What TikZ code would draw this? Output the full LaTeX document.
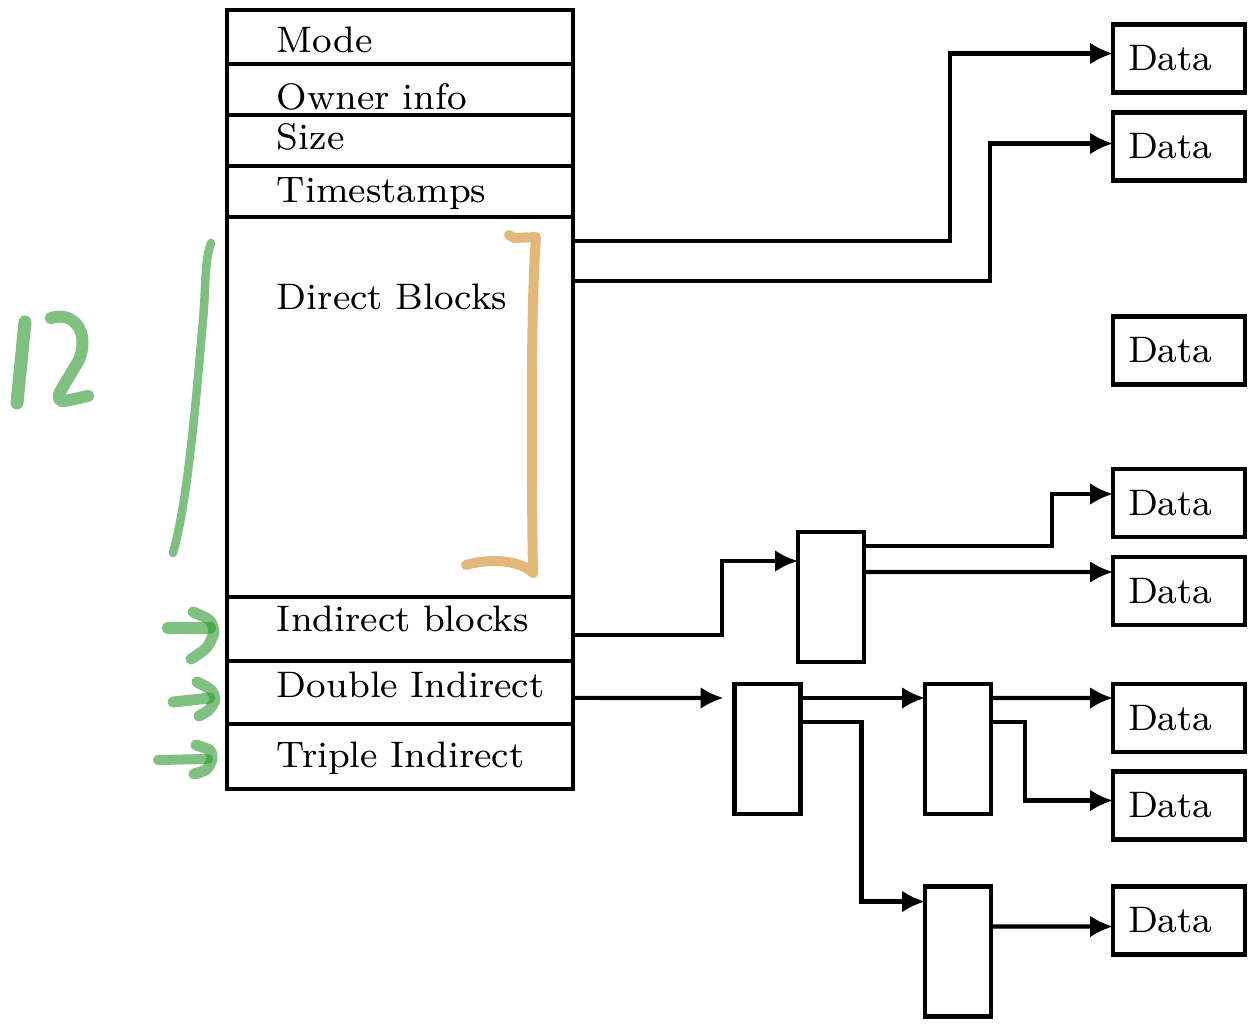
\documentclass[tikz,border=0pt]{standalone}
\usepackage{fontspec}
\usepackage{tikz}
\usetikzlibrary{arrows.meta,positioning,calc}
\usepackage{xcolor}
\newfontfamily\inodefont{lmroman8-regular.otf}
\definecolor{penGreen}{HTML}{80C080}
\definecolor{penGreenInk}{HTML}{2B962B}
\definecolor{penOrange}{HTML}{E3B87A}

\begin{document}
\begin{tikzpicture}[
  x=0.02cm, y=-0.02cm,
  >={Latex[length=0.46cm,width=0.44cm]},
  inodefield/.style={
    draw,
    line width=2.4pt,
    outer sep=0pt,
    inner ysep=0pt,
    inner xsep=0.5cm,
    text width=5.92cm,
    align=left,
    execute at begin node={\hspace*{0.5cm}},
    font=\inodefont\fontsize{21pt}{25pt}\selectfont
  },
  datablock/.style={
    draw,
    line width=2.4pt,
    outer sep=0pt,
    minimum width=2.64cm,
    minimum height=1.36cm,
    inner xsep=0.3cm,
    text width=2.04cm,
    align=left,
    font=\inodefont\fontsize{21pt}{25pt}\selectfont
  },
  ptrblock/.style={
    draw,
    line width=2.4pt,
    outer sep=0pt,
    minimum width=1.32cm,
    minimum height=2.6cm,
    inner sep=0pt
  },
  ptrarrow/.style={
    ->,
    line width=2.4pt
  },
  penstroke/.style={
    line width=#1,
    line cap=round,
    line join=round
  }
]
  \useasboundingbox (0,0) rectangle (1252,1024);

  % --- Inode fields ---
  \node[inodefield, text height=0.86cm, text depth=0.22cm, anchor=north west] (mode) at (227,10) {Mode};
  \node[inodefield, text height=0.92cm, text depth=0.10cm, below=0pt of mode] (owner) {Owner info};
  \node[inodefield, text height=0.70cm, text depth=0.32cm, below=0pt of owner] (size) {Size};
  \node[inodefield, text height=0.74cm, text depth=0.28cm, below=0pt of size] (stamps) {Timestamps};
  \node[inodefield, text height=1.86cm, text depth=5.74cm, below=0pt of stamps] (direct) {Direct Blocks};
  \node[inodefield, text height=0.70cm, text depth=0.58cm, below=0pt of direct] (indirect) {Indirect blocks};
  \node[inodefield, text height=0.74cm, text depth=0.52cm, below=0pt of indirect] (double) {Double Indirect};
  \node[inodefield, text height=0.88cm, text depth=0.42cm, below=0pt of double] (triple) {Triple Indirect};

  % --- Pointer blocks ---
  \node[ptrblock] (ind1) at (831,597) {};
  \node[ptrblock] (dbl1) at (767.5,749) {};
  \node[ptrblock] (dbl2a) at (958,749) {};
  \node[ptrblock] (dbl2b) at (958,951.5) {};

  % --- Data blocks ---
  \node[datablock] (data1) at (1179,58.5) {Data};
  \node[datablock] (data2) at (1179,146.5) {Data};
  \node[datablock] (data3) at (1179,350.5) {Data};
  \node[datablock] (data4) at (1179,503) {Data};
  \node[datablock] (data5) at (1179,591) {Data};
  \node[datablock] (data6) at (1179,718) {Data};
  \node[datablock] (data7) at (1179,805.5) {Data};
  \node[datablock] (data8) at (1179,920.5) {Data};

  % Direct pointers
  \draw[ptrarrow] ([yshift=-0.48cm]direct.north east) -- ++(377,0) |- ([yshift=-0.58cm]data1.north west);
  \draw[ptrarrow] ([yshift=-1.28cm]direct.north east) -- ++(417,0) |- ([yshift=-0.62cm]data2.north west);

  % Single indirect
  \draw[ptrarrow] ([yshift=-0.76cm]indirect.north east) -- ++(149,0) |- ([yshift=-0.58cm]ind1.north west);
  \draw[ptrarrow] ([yshift=-0.28cm]ind1.north east) -- ++(188,0) |- ([yshift=-0.5cm]data4.north west);
  \draw[ptrarrow] ([yshift=-0.8cm]ind1.north east) -- ([yshift=-0.3cm]data5.north west);

  % Double indirect
  \draw[ptrarrow, shorten >=0.22cm] ([yshift=-0.74cm]double.north east) -- ([yshift=-0.28cm]dbl1.north west);
  \draw[ptrarrow] ([yshift=-0.28cm]dbl1.north east) -- ([yshift=-0.28cm]dbl2a.north west);
  \draw[ptrarrow] ([yshift=-0.76cm]dbl1.north east) -- ++(61,0) |- ([yshift=-0.3cm]dbl2b.north west);
  \draw[ptrarrow] ([yshift=-0.28cm]dbl2a.north east) -- ([yshift=-0.28cm]data6.north west);
  \draw[ptrarrow] ([yshift=-0.76cm]dbl2a.north east) -- ++(34,0) |- ([yshift=-0.58cm]data7.north west);
  \draw[ptrarrow] ([yshift=-0.8cm]dbl2b.north east) -- ([yshift=-0.8cm]data8.north west);

  % --- Hand annotations ---
  % "12"
  \draw[penGreen, penstroke=0.26cm] (25,322) -- (17,403);
  \draw[penGreen, penstroke=0.24cm] (51,318) .. controls (74,311) and (90,332) .. (79,360)
    -- (60,392) .. controls (56,402) and (62,402) .. (70,400) -- (88,396);
  % bracket line beside the direct blocks
  \draw[penGreen, penstroke=0.17cm] (211,243) .. controls (204,262) and (206,290) .. (203,320)
    .. controls (196,400) and (188,500) .. (173,553);
  % orange bracket
  \draw[penOrange, penstroke=0.2cm] (509,235) -- (514,238) -- (536,237)
    .. controls (531,300) and (531,450) .. (533,573)
    .. controls (520,560) and (490,558) .. (466,565);
  % arrows at the indirect fields
  \begin{scope}[penGreenInk, opacity=0.6]
    \draw[penstroke=0.24cm] (168,628) -- (210,628);
    \draw[penstroke=0.22cm] (193,612) .. controls (212,620) .. (214,633) .. controls (208,648) .. (191,659);
    \draw[penstroke=0.22cm] (173,702) -- (210,698);
    \draw[penstroke=0.22cm] (197,682) .. controls (213,690) .. (215,700) .. controls (210,710) .. (199,716);
    \draw[penstroke=0.2cm] (158,760) -- (208,759);
    \draw[penstroke=0.22cm] (196,745) .. controls (212,750) .. (212,759) .. controls (208,770) .. (194,774);
  \end{scope}

\end{tikzpicture}
\end{document}
